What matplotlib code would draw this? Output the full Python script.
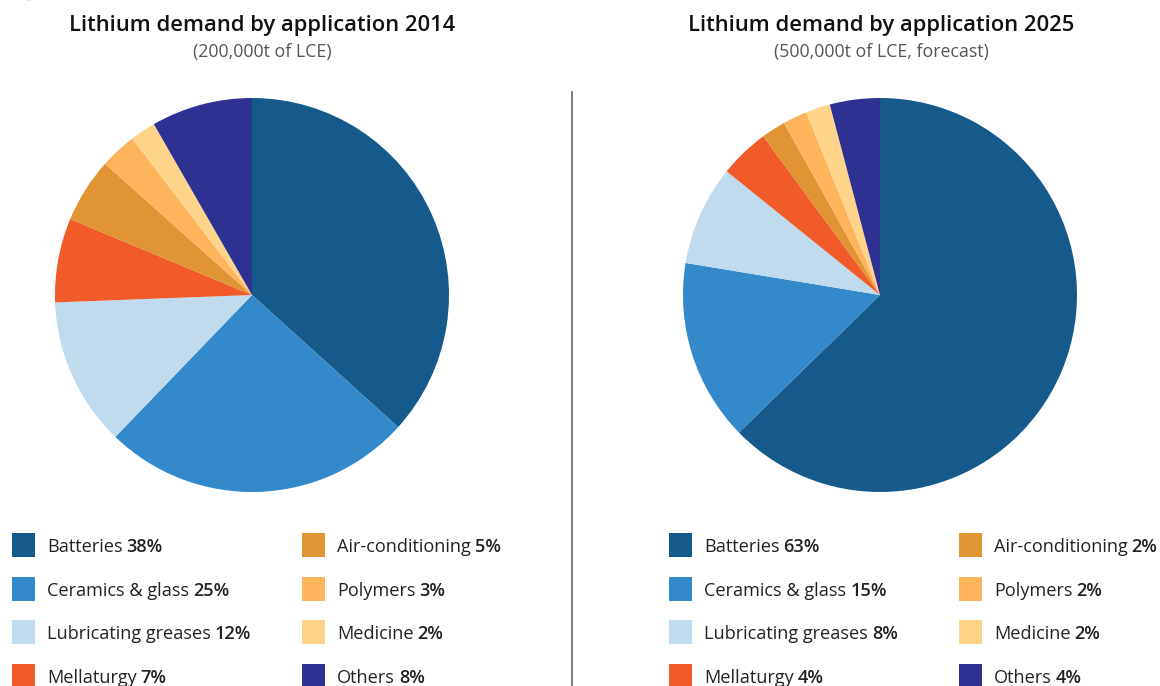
import matplotlib
matplotlib.use("Agg")
import matplotlib.pyplot as plt
from matplotlib.patches import Rectangle, Circle
from matplotlib.lines import Line2D

categories = ["Batteries", "Ceramics & glass", "Lubricating greases", "Mellaturgy",
              "Air-conditioning", "Polymers", "Medicine", "Others"]
shares_2014 = [36.7, 25.5, 12.2, 6.9, 5.3, 3.0, 2.1, 8.3]
shares_2025 = [62.7, 14.9, 8.2, 4.1, 2.0, 2.0, 2.0, 4.1]
# percentages as printed in the legends
labels_2014 = [38, 25, 12, 7, 5, 3, 2, 8]
labels_2025 = [63, 15, 8, 4, 2, 2, 2, 4]
colors = ["#155a8a", "#3389c9", "#c0dbee", "#f15a29",
          "#e09433", "#fdb45c", "#fed48a", "#2e3192"]
titles = ["Lithium demand by application 2014", "Lithium demand by application 2025"]
subtitles = ["(200,000t of LCE)", "(500,000t of LCE, forecast)"]

W, H = 1160, 686
fig = plt.figure(figsize=(W / 100, H / 100), dpi=100)
FONT = "Open Sans"

def px(x, y):
    return x / W, 1 - y / H

renderer = fig.canvas.get_renderer()

def draw_panel(shares, labels, title, subtitle, cx, tx, legend_x):
    r = 197
    ax = fig.add_axes([(cx - r) / W, (H - 295 - r) / H, 2 * r / W, 2 * r / H])
    ax.pie(shares, colors=colors, startangle=90, counterclock=False, radius=1,
           wedgeprops=dict(linewidth=0))
    ax.set_xlim(-1, 1)
    ax.set_ylim(-1, 1)
    ax.set_aspect("auto")
    ax.axis("off")
    fig.text(*px(tx, 25), title, ha="center", va="center", fontsize=15.8,
             fontweight="semibold", family=FONT, color="#111111")
    fig.text(*px(tx, 52), subtitle, ha="center", va="center", fontsize=12.8,
             family=FONT, color="#555555")
    rows = [545, 589, 632, 676]
    col_dx = [0, 290]
    for i, (cat, v) in enumerate(zip(categories, labels)):
        col, row = divmod(i, 4)
        x0 = legend_x + col_dx[col]
        y0 = rows[row]
        fig.patches.append(Rectangle(px(x0, y0 + 12), 23 / W, 24 / H,
                                     transform=fig.transFigure, facecolor=colors[i],
                                     edgecolor="none"))
        t = fig.text(*px(x0 + 35, y0 + 2), cat, ha="left", va="center",
                     fontsize=13.1, family=FONT, color="#222222")
        bb = t.get_window_extent(renderer=renderer)
        fig.text((bb.x1 + 4) / W, 1 - (y0 + 2) / H, f"{v}%", ha="left", va="center",
                 fontsize=13.1, fontweight="semibold", family=FONT, color="#222222")

draw_panel(shares_2014, labels_2014, titles[0], subtitles[0], 252, 262, 12)
draw_panel(shares_2025, labels_2025, titles[1], subtitles[1], 880, 881, 669)

fig.add_artist(Line2D([572 / W, 572 / W], [0, 1 - 92 / H], transform=fig.transFigure,
                      color="#666666", linewidth=1.2))
fig.patches.append(Circle(px(29, -5), 9 / W, transform=fig.transFigure,
                          facecolor="#f7941d", edgecolor="none"))

fig.savefig("out.png", dpi=100)
